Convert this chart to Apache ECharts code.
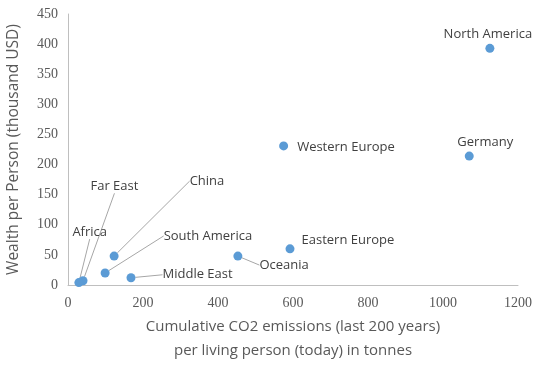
<!DOCTYPE html>
<html>
<head>
<meta charset="utf-8">
<script src="https://cdn.jsdelivr.net/npm/echarts@6/dist/echarts.min.js"></script>
<style>html,body{margin:0;padding:0;background:#fff}#c{width:544px;height:366px}</style>
</head>
<body>
<div id="c"></div>
<script>
const regions = ['North America','Germany','Western Europe','Eastern Europe','Oceania','Middle East','South America','China','Far East','Africa'];
const co2 = [1125, 1070, 575, 592, 453, 168, 99, 123, 40, 29];
const wealth = [393, 214, 231, 60, 48, 12, 20, 48, 7, 4];
const xTicks = [0, 200, 400, 600, 800, 1000, 1200];
const yTicks = [0, 50, 100, 150, 200, 250, 300, 350, 400, 450];

// label placement (styling only): [position, dx, dy, leaderLine]
const labelStyle = {
  'North America': ['top', -2, 2, false],
  'Germany': ['top', 16, 2, false],
  'Western Europe': ['right', 4, 1, false],
  'Eastern Europe': ['right', 2, -9, false],
  'Oceania': ['right', 12, 9, true],
  'Middle East': ['right', 22, -3, true],
  'South America': ['right', 49, -37, true],
  'China': ['right', 66, -75, true],
  'Far East': ['right', -2, -94, true],
  'Africa': ['right', -16, -50, true]
};

const chart = echarts.init(document.getElementById('c'));
const textColor = '#595959';
const data = regions.map((n, i) => ({
  name: n,
  value: [co2[i], wealth[i]],
  label: { position: labelStyle[n][0] },
  labelLine: { show: labelStyle[n][3] }
}));

chart.setOption({
  animation: false,
  grid: { left: 68, right: 26, top: 14, bottom: 81, containLabel: false, outerBoundsMode: 'none' },
  xAxis: {
    type: 'value', min: xTicks[0], max: xTicks[xTicks.length - 1], interval: 200,
    splitLine: { show: false },
    axisLine: { lineStyle: { color: '#bfbfbf' } },
    axisTick: { show: false },
    axisLabel: { color: textColor, fontFamily: 'Liberation Serif', fontSize: 14, margin: 11, formatter: v => String(v) },
    name: 'Cumulative CO2 emissions (last 200 years)\nper living person (today) in tonnes',
    nameLocation: 'middle', nameGap: 28,
    nameTextStyle: { color: textColor, fontFamily: 'Open Sans', fontSize: 15, lineHeight: 24, verticalAlign: 'top' }
  },
  yAxis: {
    type: 'value', min: yTicks[0], max: yTicks[yTicks.length - 1], interval: 50,
    splitLine: { show: false },
    axisLine: { show: true, lineStyle: { color: '#bfbfbf' } },
    axisTick: { show: false },
    axisLabel: { color: textColor, fontFamily: 'Liberation Serif', fontSize: 14, margin: 10, formatter: v => String(v) },
    name: 'Wealth per Person (thousand USD)',
    nameLocation: 'middle', nameGap: 46,
    nameTextStyle: { color: textColor, fontFamily: 'Open Sans', fontSize: 15.5 }
  },
  series: [{
    type: 'scatter',
    symbolSize: 9,
    itemStyle: { color: '#5b9bd5', opacity: 1 },
    data: data,
    label: {
      show: true, formatter: '{b}', color: '#404040',
      fontFamily: 'Open Sans', fontSize: 13, distance: 5
    },
    labelLine: { show: false, lineStyle: { color: '#a6a6a6', width: 1 } },
    labelLayout: function (p) {
      const s = labelStyle[regions[p.dataIndex]];
      return { dx: s[1], dy: s[2] };
    }
  }]
});
</script>
</body>
</html>
